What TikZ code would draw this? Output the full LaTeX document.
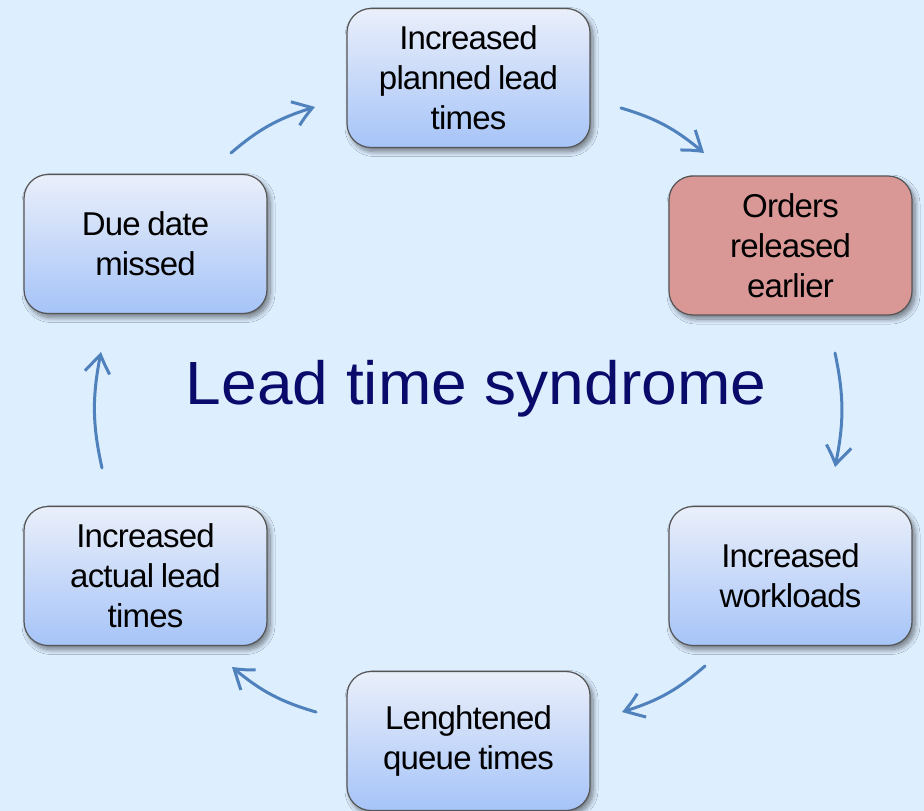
\documentclass[tikz,border=0pt]{standalone}
\usepackage{fontspec}
\setmainfont{Liberation Sans}
\newfontfamily\boxfont[LetterSpace=-2.5,WordSpace=0.8]{Liberation Sans}
\usetikzlibrary{arrows.meta,bending,shadows.blur}

\definecolor{pagebg}{HTML}{DDEEFF}
\definecolor{boxtop}{HTML}{EAEFFA}
\definecolor{boxbottom}{HTML}{A6C4F8}
\definecolor{boxline}{HTML}{555555}
\definecolor{hotfill}{HTML}{D99795}
\definecolor{flowblue}{HTML}{4F81BD}
\definecolor{titlenavy}{HTML}{0A0A6A}

\tikzset{
  stagebox/.style={
    rectangle, rounded corners=24pt,
    minimum width=243pt, minimum height=139pt,
    draw=boxline, line width=1.2pt,
    top color=boxtop, bottom color=boxbottom,
    align=center, text=black,
    font=\boxfont\fontsize{33}{40}\selectfont,
    blur shadow={shadow xshift=3pt, shadow yshift=-4pt,
                 shadow blur radius=5pt, shadow blur steps=10,
                 shadow opacity=50}
  },
  hotbox/.style={stagebox, fill=hotfill, top color=hotfill, bottom color=hotfill},
  cycle arrow/.style={
    draw=flowblue, line width=3pt, line cap=round,
    -{Straight Barb[length=19pt,width=25pt,bend]}
  }
}

\begin{document}
\begin{tikzpicture}[x=1pt,y=-1pt]
  \fill[pagebg] (0,0) rectangle (924,811);
  \useasboundingbox (0,0) rectangle (924,811);

  % the six stages of the cycle
  \node[stagebox] (planned)  at (468.5,78)   {Increased\\planned lead\\times};
  \node[hotbox]   (released) at (790.5,245.5) {Orders\\released\\earlier};
  \node[stagebox] (workload) at (790.5,576)  {Increased\\workloads};
  \node[stagebox] (queue)    at (468.5,741)  {Lenghtened\\queue times};
  \node[stagebox] (actual)   at (145.5,576)  {Increased\\actual lead\\times};
  \node[stagebox] (missed)   at (145.5,244)  {Due date\\missed};

  % centre title
  \node[anchor=base, text=titlenavy, font=\fontsize{61}{70}\selectfont, xscale=1.05]
    (title) at (476,404) {Lead time syndrome};

  % end points of the arrows between the stages
  \coordinate (m1) at (231,153);  \coordinate (p1) at (315,107);
  \coordinate (p2) at (621,108);  \coordinate (r1) at (704,153);
  \coordinate (r2) at (835,353);  \coordinate (w1) at (835,467);
  \coordinate (w2) at (705,666);  \coordinate (q1) at (622,712);
  \coordinate (q2) at (316,712);  \coordinate (a1) at (232,667);
  \coordinate (a2) at (102,468);  \coordinate (d1) at (101,352);

  \draw[cycle arrow] (m1) to[bend left=12] (p1);
  \draw[cycle arrow] (p2) to[bend left=12] (r1);
  \draw[cycle arrow] (r2) to[bend left=12] (w1);
  \draw[cycle arrow] (w2) to[bend left=12] (q1);
  \draw[cycle arrow] (q2) to[bend left=12] (a1);
  \draw[cycle arrow] (a2) to[bend left=12] (d1);
\end{tikzpicture}
\end{document}
